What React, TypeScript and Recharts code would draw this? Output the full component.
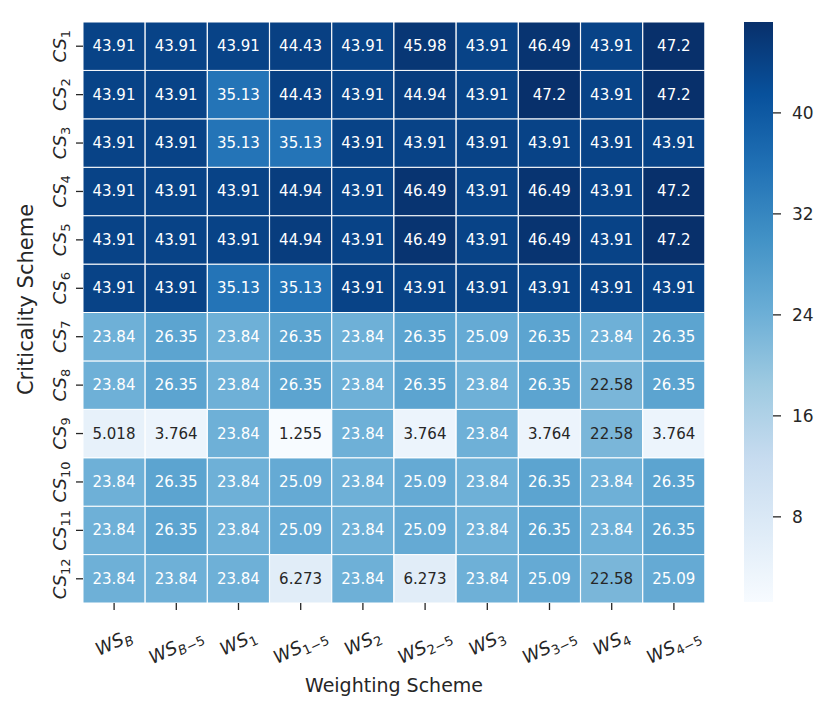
import { Bar, BarChart, Cell, Label, LabelList, XAxis, YAxis } from 'recharts'

// column / row labels (subscripts only)
const weightingSchemes = ['B', 'B−5', '1', '1−5', '2', '2−5', '3', '3−5', '4', '4−5']
const criticalitySchemes = ['1', '2', '3', '4', '5', '6', '7', '8', '9', '10', '11', '12']

// one array per criticality scheme, values in weighting scheme order
const cs1 = [43.91, 43.91, 43.91, 44.43, 43.91, 45.98, 43.91, 46.49, 43.91, 47.2]
const cs2 = [43.91, 43.91, 35.13, 44.43, 43.91, 44.94, 43.91, 47.2, 43.91, 47.2]
const cs3 = [43.91, 43.91, 35.13, 35.13, 43.91, 43.91, 43.91, 43.91, 43.91, 43.91]
const cs4 = [43.91, 43.91, 43.91, 44.94, 43.91, 46.49, 43.91, 46.49, 43.91, 47.2]
const cs5 = [43.91, 43.91, 43.91, 44.94, 43.91, 46.49, 43.91, 46.49, 43.91, 47.2]
const cs6 = [43.91, 43.91, 35.13, 35.13, 43.91, 43.91, 43.91, 43.91, 43.91, 43.91]
const cs7 = [23.84, 26.35, 23.84, 26.35, 23.84, 26.35, 25.09, 26.35, 23.84, 26.35]
const cs8 = [23.84, 26.35, 23.84, 26.35, 23.84, 26.35, 23.84, 26.35, 22.58, 26.35]
const cs9 = [5.018, 3.764, 23.84, 1.255, 23.84, 3.764, 23.84, 3.764, 22.58, 3.764]
const cs10 = [23.84, 26.35, 23.84, 25.09, 23.84, 25.09, 23.84, 26.35, 23.84, 26.35]
const cs11 = [23.84, 26.35, 23.84, 25.09, 23.84, 25.09, 23.84, 26.35, 23.84, 26.35]
const cs12 = [23.84, 23.84, 23.84, 6.273, 23.84, 6.273, 23.84, 25.09, 22.58, 25.09]
const rows = [cs1, cs2, cs3, cs4, cs5, cs6, cs7, cs8, cs9, cs10, cs11, cs12]

const colorTicks = [8, 16, 24, 32, 40]
const vMin = 1.255
const vMax = 47.2

const FONT = 'DejaVu Sans'
const INK = '#262626'
// matplotlib "Blues"
const BLUES = ['#f7fbff', '#deebf7', '#c6dbef', '#9ecae1', '#6baed6', '#4292c6', '#2171b5', '#08519c', '#08306b']

const hexRgb = (h: string) => [1, 3, 5].map((i) => parseInt(h.slice(i, i + 2), 16))

function mix(v: number) {
    const t = Math.min(1, Math.max(0, (v - vMin) / (vMax - vMin)))
    const p = t * 8
    const i = Math.min(7, Math.floor(p))
    const f = p - i
    const a = hexRgb(BLUES[i])
    const b = hexRgb(BLUES[i + 1])
    return a.map((x, k) => x + (b[k] - x) * f)
}

function blues(v: number) {
    const c = mix(v).map(Math.round)
    return `rgb(${c[0]},${c[1]},${c[2]})`
}

// seaborn picks dark text on light cells
function textColor(v: number) {
    const lin = mix(v).map((x) => {
        const c = x / 255
        return c <= 0.03928 ? c / 12.92 : Math.pow((c + 0.055) / 1.055, 2.4)
    })
    const lum = 0.2126 * lin[0] + 0.7152 * lin[1] + 0.0722 * lin[2]
    return lum > 0.408 ? INK : '#ffffff'
}

const data = weightingSchemes.map((ws, c) => {
    const d: Record<string, string | number> = { ws, col: c }
    rows.forEach((_, r) => (d['r' + r] = 1))
    return d
})

const colorbarData = [{ name: 'cb', range: [vMin, vMax] }]

// rough em widths for sizing the rotated tick labels
const EM: Record<string, number> = { B: 0.686, '−': 0.838 }

function Sub({ text }: { text: string }) {
    // letters italic, digits / minus upright (mathtext style)
    return (
        <>
            {text.split('').map((ch, i) => (
                <tspan key={i} fontStyle={/[A-Za-z]/.test(ch) ? 'italic' : 'normal'}>
                    {ch}
                </tspan>
            ))}
        </>
    )
}

function XTick(props: any) {
    const { x, y, payload } = props
    const sub = weightingSchemes[payload.index] ?? String(payload.value)
    const len = 1.624 * 18 + sub.split('').reduce((s, ch) => s + (EM[ch] ?? 0.636) * 13, 0)
    const ang = 25
    const rad = (ang * Math.PI) / 180
    const h = len * Math.sin(rad) + 12 * Math.cos(rad)
    const cy = y + 20 + h / 2
    return (
        <text
            x={x}
            y={cy + 5}
            textAnchor='middle'
            fontFamily={FONT}
            fontSize={18}
            fill={INK}
            transform={`rotate(-${ang}, ${x}, ${cy})`}
        >
            <tspan fontStyle='italic'>WS</tspan>
            <tspan dy={4} fontSize={13}>
                <Sub text={sub} />
            </tspan>
        </text>
    )
}

function YTick(props: any) {
    const { x, y, payload } = props
    const r = Math.round(12 - 0.5 - payload.value)
    const bx = x - 10
    return (
        <text
            x={bx}
            y={y}
            textAnchor='middle'
            fontFamily={FONT}
            fontSize={18}
            fill={INK}
            transform={`rotate(-90, ${bx}, ${y})`}
        >
            <tspan fontStyle='italic'>CS</tspan>
            <tspan dy={4} fontSize={13}>
                {criticalitySchemes[r]}
            </tspan>
        </text>
    )
}

const valueLabel = (r: number) => (props: any) => {
    const { x, y, width, height, index } = props
    const v = rows[r][index]
    return (
        <text
            x={x + width / 2}
            y={y + height / 2}
            textAnchor='middle'
            dominantBaseline='central'
            fontFamily={FONT}
            fontSize={15}
            fill={textColor(v)}
        >
            {String(v)}
        </text>
    )
}

export default function App() {
    const order = rows.map((_, i) => i).reverse()
    return (
        <div style={{ position: 'absolute', left: 0, top: 0, width: 830, height: 713, background: '#fff' }}>
            <svg width={0} height={0} style={{ position: 'absolute' }}>
                <defs>
                    <linearGradient id='bluesBar' x1='0' y1='1' x2='0' y2='0'>
                        {BLUES.map((c, i) => (
                            <stop key={i} offset={`${(i / 8) * 100}%`} stopColor={c} />
                        ))}
                    </linearGradient>
                </defs>
            </svg>

            <div style={{ position: 'absolute', left: 0, top: 0 }}>
                <BarChart
                    width={830}
                    height={713}
                    data={data}
                    margin={{ top: 22, right: 125, bottom: 0, left: 0 }}
                    barCategoryGap={0}
                >
                    <XAxis
                        dataKey='ws'
                        height={110}
                        axisLine={false}
                        tickSize={7}
                        tickMargin={0}
                        tickLine={{ stroke: INK, strokeWidth: 1.3 }}
                        tick={<XTick />}
                        interval={0}
                    >
                        <Label
                            content={(p: any) => (
                                <text
                                    x={p.viewBox.x + p.viewBox.width / 2}
                                    y={692}
                                    textAnchor='middle'
                                    fontFamily={FONT}
                                    fontSize={19}
                                    fill={INK}
                                >
                                    Weighting Scheme
                                </text>
                            )}
                        />
                    </XAxis>
                    <YAxis
                        type='number'
                        domain={[0, 12]}
                        ticks={criticalitySchemes.map((_, i) => 12 - i - 0.5)}
                        width={83}
                        axisLine={false}
                        tickSize={7}
                        tickMargin={0}
                        tickLine={{ stroke: INK, strokeWidth: 1.3 }}
                        tick={<YTick />}
                        interval={0}
                    >
                        <Label
                            content={(p: any) => {
                                const cx = 33
                                const cy = p.viewBox.y + p.viewBox.height / 2 - 13
                                return (
                                    <text
                                        x={cx}
                                        y={cy}
                                        textAnchor='middle'
                                        fontFamily={FONT}
                                        fontSize={21}
                                        fill={INK}
                                        transform={`rotate(-90, ${cx}, ${cy})`}
                                    >
                                        Criticality Scheme
                                    </text>
                                )
                            }}
                        />
                    </YAxis>
                    {order.map((r) => (
                        <Bar
                            key={r}
                            dataKey={'r' + r}
                            stackId='hm'
                            stroke='#ffffff'
                            strokeWidth={1}
                            isAnimationActive={false}
                        >
                            {rows[r].map((v, c) => (
                                <Cell key={c} fill={blues(v)} />
                            ))}
                            <LabelList content={valueLabel(r)} />
                        </Bar>
                    ))}
                </BarChart>
            </div>

            <div style={{ position: 'absolute', left: 0, top: 0 }}>
                <BarChart
                    width={830}
                    height={713}
                    data={colorbarData}
                    margin={{ top: 22, right: 0, bottom: 111, left: 744 }}
                    barCategoryGap={0}
                >
                    <XAxis dataKey='name' hide />
                    <YAxis
                        type='number'
                        orientation='right'
                        domain={[vMin, vMax]}
                        ticks={colorTicks}
                        allowDataOverflow
                        width={57}
                        axisLine={false}
                        tickSize={8}
                        tickMargin={11}
                        tickLine={{ stroke: INK, strokeWidth: 1.3 }}
                        tick={{ fontFamily: FONT, fontSize: 17, fill: INK }}
                    />
                    <Bar dataKey='range' fill='url(#bluesBar)' isAnimationActive={false} />
                </BarChart>
            </div>
        </div>
    )
}
